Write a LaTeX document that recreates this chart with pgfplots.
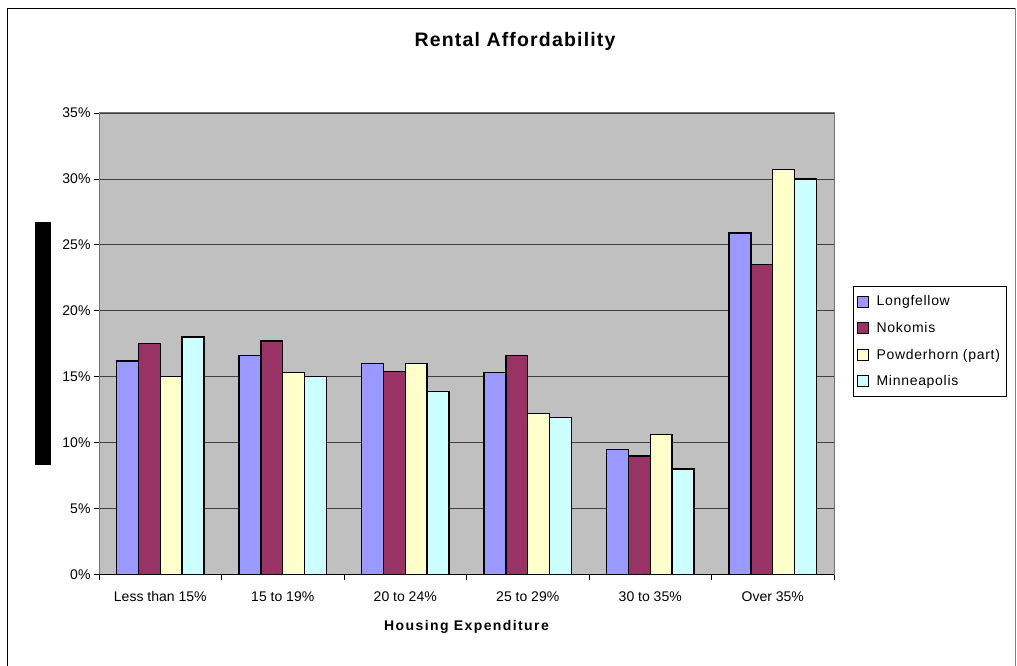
\documentclass[border=0pt]{standalone}
\usepackage{fontspec}
\setmainfont{Liberation Sans}
\usepackage{pgfplots}
\pgfplotsset{compat=1.18}
\definecolor{cL}{HTML}{9999FF}
\definecolor{cN}{HTML}{993366}
\definecolor{cP}{HTML}{FFFFCC}
\definecolor{cM}{HTML}{CCFFFF}
\definecolor{plotbg}{HTML}{C0C0C0}
\newcommand{\fs}[1]{\fontsize{#1bp}{#1bp}\selectfont}
\begin{document}
\begin{tikzpicture}
\useasboundingbox (0bp,0bp) rectangle (1017bp,666bp);
\draw[black, line width=1bp] (7.5bp,-10bp) -- (7.5bp,657.5bp) -- (1015.5bp,657.5bp);
\draw[black!50, line width=1bp] (1015.5bp,657.5bp) -- (1015.5bp,-10bp);
\node[font=\fs{19.5}\bfseries\addfontfeature{LetterSpace=6}] at (515bp,625bp) {Rental Affordability};
\fill[black] (35bp,201bp) rectangle (51bp,444bp);
\begin{axis}[
  at={(99bp,91.5bp)}, anchor=south west, scale only axis,
  width=735bp, height=461.5bp,
  ybar=0pt, bar width=0.179,
  xmin=-0.5, xmax=5.5, ymin=0, ymax=35,
  xtick={-0.5,0.5,...,5.5}, x tick label as interval,
  xticklabels={Less than 15\%,15 to 19\%,20 to 24\%,25 to 29\%,30 to 35\%,Over 35\%},
  ytick={0,5,...,35},
  yticklabel={\pgfmathprintnumber{\tick}\%},
  /pgf/number format/assume math mode=true,
  tick label style={font=\fs{14}},
  xticklabel style={yshift=-8.5bp},
  ymajorgrids, grid style={black!75, line width=0.8bp},
  axis background/.style={fill=plotbg},
  axis line style={draw=black!55, line width=1bp},
  tick align=outside, xtick pos=bottom, ytick pos=left,
  major tick length=5bp,
  tick style={black, line width=0.8bp},
  xlabel={Housing Expenditure},
  xlabel style={font=\fs{14}\bfseries\addfontfeature{LetterSpace=10}, at={(axis description cs:0.5,0)}, anchor=center, yshift=-52.5bp},
  legend style={at={(1.0259,0.505)}, anchor=west, draw=black, line width=0.8bp, fill=white,
    font=\fs{14}\addfontfeature{LetterSpace=5}, row sep=11bp, inner xsep=4bp, inner ysep=7bp},
  legend cell align=left,
  every axis plot post/.append style={legend image code/.code={\draw[##1,draw=black,line width=1bp] (0bp,-5.5bp) rectangle (11bp,5.5bp); \path (16bp,0bp);}},
  every axis plot/.append style={draw=black, line width=1.4bp},
]
\addplot[fill=cL, bar shift=-0.2685] coordinates {(0,16.2) (1,16.6) (2,16.0) (3,15.3) (4,9.5) (5,25.9)};
\addplot[fill=cN, bar shift=-0.0895] coordinates {(0,17.5) (1,17.7) (2,15.4) (3,16.6) (4,9.0) (5,23.5)};
\addplot[fill=cP, bar shift=0.0895] coordinates {(0,15.0) (1,15.3) (2,16.0) (3,12.2) (4,10.6) (5,30.7)};
\addplot[fill=cM, bar shift=0.2685] coordinates {(0,18.0) (1,15.0) (2,13.9) (3,11.9) (4,8.0) (5,30.0)};
\legend{Longfellow,Nokomis,Powderhorn (part),Minneapolis}
\draw[black, line width=1bp] (rel axis cs:0,0) -- (rel axis cs:1,0);
\end{axis}
\end{tikzpicture}
\end{document}
